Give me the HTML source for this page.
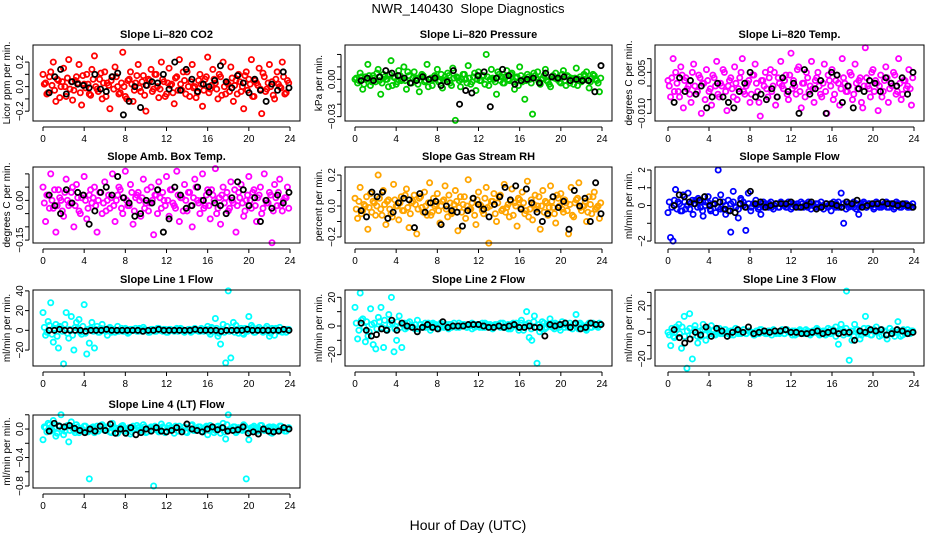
<!DOCTYPE html>
<html><head><meta charset="utf-8"><style>
body{margin:0;background:#fff;width:936px;height:540px;overflow:hidden}
svg{display:block;font-family:"Liberation Sans",sans-serif}
</style></head><body>
<svg id="c" width="936" height="540">
<text x="468" y="13" text-anchor="middle" font-size="13">NWR_140430&#160; Slope Diagnostics</text>
<text x="468" y="530" text-anchor="middle" font-size="14">Hour of Day (UTC)</text>
</svg>
<script>
const co2=[10,3,-5,12,20,-12,5,0,15,-8,22,4,-3,8,18,-15,2,10,-6,14,25,-2,6,-10,12,3,-18,8,16,0,-5,28,-8,5,12,-12,3,18,-4,9,-20,6,14,-2,10,-9,20,4,-6,15,2,-14,8,22,-3,5,12,-8,18,0,-5,10,-16,6,24,-2,14,3,-10,8,20,-6,2,16,-12,5,10,-4,-18,12,6,22,-8,3,15,-22,8,-2,18,4,-10,12,0,20,-6,5];
const co2B=[2,-6,8,1,-3,6,-9,4,0,7,-2,-11,5,3,-5,9,-1,2,-7,6,0,-4,11,3,-8,1,5,-2,8,-6,3,0,-10,6,2,-3,9,-1,4,-7,1,5,-4,10,0,-2,6,-8,3,1,-5,7,-3,2,12,-6,0,4,-1,-9,5,2,-3,8,-5,1,6,-2,10,-7,0,3,-4,7,1,-6,4,0,9,-3,2,-8,5,1,-2,11,-4,3,0,-7,6,2,-1,8,-5,3];
const co2Blk=[-5,8,14,-6,4,2,1,-1,10,-2,-4,8,11,-23,-12,0,-17,1,4,3,10,-2,20,-3,14,6,-4,2,0,5,17,4,-1,9,3,-5,6,-3,-12,2,-3,12,-1];
const press=[0,-3,5,-8,2,12,-5,3,-2,8,-12,4,0,-6,15,2,-4,7,-1,10,-8,3,-3,6,1,-10,4,-2,12,0,-5,3,8,-1,-7,2,5,-3,9,-33,1,-6,4,0,11,-4,2,-9,6,-1,3,20,-5,8,0,-12,4,2,-3,7,-1,5,-8,2,10,-2,-16,4,0,-28,3,6,-4,1,8,-2,-6,3,5,0,-3,7,-5,2,1,-4,9,0,-2,4,6,-7,1,3,-1,-10];
const pressB=[1,-1,2,-4,0,3,-2,1,5,-1,-3,2,0,4,-5,1,-2,3,0,-1,6,-3,1,0,-4,2,3,-1,-6,1,0,2,-2,4,-1,0,3,-5,1,2,-1,0,4,-3,1,-2,5,0,-1,3,-4,2,0,1,-2,6,-1,-3,2,0,4,-2,1,-5,3,0,-1,2,-3,5,1,-2,0,3,-1,-4,2,1,0,-2,4,-1,3,-3,0,1,-5,2,0,3,-1,-2,4,0,-3,1];
const pressBlk=[-1,1,-1,2,7,5,3,1,-3,-1,2,0,1,-5,-2,7,-20,-9,-11,3,6,-22,1,8,3,-4,-1,0,1,-3,5,2,1,2,-1,0,-1,-1,-10,11];
const temp=[2,-4,10,5,-2,7,-8,3,0,-6,8,-3,4,-10,1,6,-2,-7,3,9,-4,0,5,-9,2,-1,7,-5,3,10,-3,1,-6,4,8,-2,-11,2,5,-4,6,0,-7,3,9,-1,4,-5,12,2,-3,7,-8,1,5,-2,9,-6,3,0,-4,8,-10,2,6,-3,4,-7,10,1,-2,5,-5,8,-1,3,-8,14,0,-4,6,2,-9,4,-2,7,-6,1,5,-3,10,-5,2,-1,6,-7];
const tempB=[0,3,-2,1,-4,4,2,-1,-3,5,0,-2,3,1,-5,2,-1,4,0,-3,1,6,-2,0,3,-4,1,-1,5,-2,0,2,-3,4,1,-6,2,0,-1,3,-2,5,-4,1,0,2,-3,4,-1,0,6,-2,1,-4,3,0,-1,2,5,-3,1,-2,4,0,-5,2,1,-1,3,-2,0,4,-3,1,2,-6,0,3,-1,5,-2,1,0,-4,2,3,-1,0,4,-2,1,-3,2,0,-1,3];
const tempBlk=[-6,3,-2,2,-3,0,-8,-4,1,-4,-6,-8,-2,1,5,-4,-3,-5,-1,-4,3,-2,1,-10,6,-3,-1,2,-10,5,4,-6,0,-8,-1,-2,2,1,-2,3,1,0,3,-3,5];
const amb=[5,-8,2,10,-3,-12,4,0,-6,8,-2,3,-10,6,-4,1,9,-7,2,-1,5,-12,3,-5,7,0,-3,10,-8,2,4,-5,11,-2,6,-9,1,3,-6,8,-1,-4,5,-13,2,7,-3,0,9,-6,4,-2,11,-8,1,6,-4,3,-10,8,0,-5,10,-2,4,-7,2,12,-3,-9,5,1,-4,7,-1,-12,3,6,-6,0,9,-3,4,-8,2,-5,10,-1,3,-16,6,-2,8,-4,1,5];
const ambB=[-1,2,-3,0,4,-2,1,-4,3,0,-1,5,-2,1,-5,2,0,-3,4,1,-2,0,3,-1,-4,2,1,-2,0,5,-3,1,0,-2,3,-4,2,0,1,-3,4,-1,0,2,-5,1,3,-2,0,4,-1,-3,2,1,-4,0,3,-2,1,5,-1,0,-3,2,-2,4,0,-5,1,2,-1,3,-3,0,4,-2,1,-1,-4,2,0,3,-2,1,5,-3,0,-1,2,-4,1,3,-2,0,1,-3];
const ambBlk=[2,-2,-5,4,-1,3,2,-9,-4,3,5,2,9,1,-1,-6,-5,0,-1,4,-12,-7,5,2,-3,-2,5,0,3,-1,-2,-5,1,7,4,-2,1,-8,0,-3,2,-1,3];
const rh=[5,-8,12,-3,0,-15,8,3,-6,20,-2,10,-12,4,-5,14,0,-9,6,-3,11,-14,2,7,-18,5,-1,9,-6,15,-4,0,8,-11,3,13,-7,2,-4,10,-16,6,1,-8,17,-2,5,-12,9,0,-5,12,-24,3,8,-10,6,-3,14,-1,-7,11,2,-13,4,9,-5,16,-2,-9,7,0,-15,10,3,-6,13,-1,-11,5,8,-4,2,-18,12,-7,4,15,-3,0,-10,6,-5,9,-1,-8];
const rhB=[-2,3,-5,1,6,-1,-4,2,0,5,-6,1,3,-2,-7,4,0,2,-3,7,-1,-5,3,1,-2,6,-4,0,2,-6,5,1,-3,0,4,-2,7,-5,1,3,-1,-4,6,0,-2,2,-6,4,1,-3,5,-1,0,3,-5,2,7,-2,-4,1,3,-6,0,5,-1,2,-3,-7,4,1,-2,6,0,-4,2,-1,3,-5,7,0,-2,4,-3,1,-6,2,5,-1,0,3,-4,1,6,-2,0,2];
const rhBlk=[-3,-7,9,6,9,-8,-4,2,5,4,-14,8,-4,2,3,-12,0,-3,-4,-13,-3,5,1,-2,-7,1,6,12,4,13,-2,11,2,-4,-10,-5,6,-1,3,-15,10,0,5,-10,15,-5];
const sflow=[-4,-18,-20,9,2,-3,6,-2,7,1,-5,3,4,-1,-6,2,5,-3,1,-4,20,6,-2,-5,3,-15,8,-1,-7,4,2,-14,7,-3,1,3,-2,-5,2,1,-1,2,-2,1,-1,2,1,-1,2,-2,1,0,-1,2,-1,1,2,-2,0,1,-1,2,-2,1,0,-3,2,1,-1,7,-10,2,-1,1,2,-2,-5,1,2,-1,1,0,-2,2,1,-1,0,2,-1,1,-2,2,1,-1,0,1,-1,-1];
const sflowB=[2,-1,3,-2,1,-3,2,0,-2,3,1,-1,2,-3,0,2,-2,1,3,-1,-2,2,0,-3,1,2,-1,-2,3,0,-1,1,-1,1,0,-1,1,-1,0,1,-1,0,1,-1,1,0,-1,1,-1,0,1,-1,1,0,-1,1,0,-1,1,-1,0,1,-1,1,0,-1,2,-1,1,-2,1,0,-1,1,-1,0,1,-1,1,0,-1,1,-1,0,1,-1,1,0,-1,1,-1,0,1,-1,0,1];
const sflowBlk=[0,6,5,2,1,3,5,0,1,2,-2,-3,-4,1,-1,8,1,2,-1,0,1,1,1,2,-1,-1,0,2,-2,-1,1,1,0,-1,2,1,3,-1,0,1,1,2,1,1,0,1,0,-1];
const line1=[18,-5,9,28,-12,6,-18,3,-34,18,-8,14,-20,8,11,-4,26,-24,-13,8,-18,4,-2,6,0,-5,3,1,-2,4,0,-1,2,-3,1,0,2,-1,1,3,0,-2,1,0,-1,2,0,1,-2,1,0,-1,2,0,1,-2,0,1,-1,2,0,-1,1,0,4,-4,2,12,-6,-14,6,-33,40,-28,8,5,-3,2,-4,0,14,5,-2,1,3,0,-1,4,-6,2,-5,1,3,-2,0,1];
const line1B=[3,-2,5,-4,2,-6,4,-1,6,-3,1,-5,3,2,-2,4,-3,1,2,-1,1,-2,2,0,-1,2,-2,1,0,-1,2,-1,1,-2,1,0,-1,2,-1,1,0,-2,1,-1,2,0,-1,1,-2,1,0,1,-1,2,-1,0,1,-2,1,0,-1,2,-1,1,-2,3,-1,2,-3,1,-2,4,-1,3,-2,1,0,-3,2,-1,1,3,-2,0,1,-2,2,-1,-3,1,2,-1,0,1,-2,1];
const line1Blk=[0,0,1,0,0,0,0,-1,0,0,0,1,0,0,0,0,0,0,-1,0,0,1,0,0,0,0,0,0,1,0,0,0,0,-1,0,0,0,0,1,0,0,0,0,0,0,1,0];
const line2=[13,-9,23,5,-11,-7,12,-13,-16,6,13,-15,-2,8,20,-18,-10,7,-15,2,-1,3,0,-2,4,1,-1,2,0,-3,2,1,-1,2,0,1,-2,1,0,-1,2,0,1,-1,0,2,-1,1,0,-1,2,0,1,-1,0,1,2,-1,0,-2,1,0,2,-3,4,-1,10,-8,-10,7,-26,-4,3,-2,1,5,-1,2,0,-3,1,2,-1,0,1,8,-2,1,0,-3,2,-1,1,0,2];
const line2B=[2,-3,4,-1,3,-4,1,2,-2,3,-1,4,-3,1,2,-2,3,-1,1,-2,2,0,-1,1,-2,1,0,-1,2,-1,1,0,-2,1,-1,0,1,-1,2,0,-1,1,0,-1,1,-2,1,0,-1,2,-1,1,0,-2,1,0,-1,2,-1,1,-2,2,0,-1,2,-3,1,2,-2,3,-1,1,-2,2,-1,0,2,-2,1,-1,3,-1,0,2,-2,1,-1,2,0,-2,1,-1,2,0,-1,1];
const line2Blk=[2,-3,-7,-6,-2,-3,4,-3,2,0,-1,-4,-1,1,-1,-2,3,-1,0,0,0,1,1,1,0,-1,-1,0,-1,0,1,-1,-1,0,-1,-1,-7,1,0,1,2,-1,2,-2,-1,2,1,1];
const line3=[0,-10,-3,4,6,-12,12,-27,14,-20,5,-8,-3,6,-6,2,5,-2,0,3,-1,2,0,-2,1,3,-1,0,2,-1,1,0,-2,1,2,0,-1,1,0,2,-1,0,1,-1,2,0,1,-2,0,1,-1,2,0,-1,1,3,-2,0,1,-1,2,0,4,-9,6,1,31,-21,-6,6,2,-5,0,12,3,-2,1,4,0,-2,1,-5,3,1,0,8,-3,2,-1,0,1];
const line3B=[-2,3,-4,2,-1,4,-3,1,3,-2,2,-3,1,2,-2,3,-1,1,-2,2,-1,0,2,-1,1,-2,1,0,-1,2,-1,1,0,-2,1,-1,2,0,-1,1,-2,1,0,-1,2,-1,1,0,-2,1,-1,2,0,-1,1,-2,1,0,2,-1,1,-2,3,-1,2,-3,1,2,-2,3,-1,1,-3,2,0,-2,3,-1,1,-2,2,0,-3,2,1,-2,3,-1,-3,2,1,-2,0,2,-1,1];
const line3Blk=[2,-4,-8,-5,0,-2,4,-3,3,1,-3,0,2,0,4,-1,0,1,0,1,1,2,0,0,-1,-1,0,1,-1,0,1,-1,0,0,-6,1,0,2,1,2,-2,-1,2,1,-1,0];
const line4=[-15,2,8,-3,12,-10,5,20,-8,3,-18,10,-2,6,-5,1,4,-3,-70,2,-5,4,0,6,-2,3,-4,8,0,-6,2,5,-3,1,-7,4,0,2,-2,6,-5,1,3,-80,0,-4,7,2,-3,5,0,-6,2,4,-1,3,-5,1,6,-2,0,3,-4,2,-8,5,1,-2,4,-6,8,-14,20,0,3,-5,2,-1,6,-70,-15,2,4,-3,1,5,-2,0,3,-6,2,-1,4,0,-3,1];
const line4B=[3,-4,6,-1,2,-6,4,0,-3,5,-2,1,-5,3,0,-2,4,-4,1,3,-1,-3,5,0,-2,2,-5,3,1,-1,4,-3,0,2,-4,1,5,-2,0,3,-4,1,-1,4,-2,0,3,-5,1,2,-1,4,-3,0,2,-4,1,5,-2,-1,3,-3,0,4,-2,1,-5,3,0,2,-4,6,-1,0,3,-3,1,-2,4,0,-4,2,1,-3,5,-1,0,2,-5,3,1,-2,4,0,-3,2];
const line4Blk=[-3,8,4,3,5,1,-2,-5,0,-3,4,-2,7,-6,0,-6,2,-8,-5,0,-3,2,-3,-4,-2,2,-4,7,0,-2,-4,0,3,-1,2,-3,-2,-1,3,-6,-4,-7,0,-3,-4,-3,2,0];
const xTicks=[0,4,8,12,16,20,24];

const NS='http://www.w3.org/2000/svg';
const svg=document.getElementById('c');
function el(t,a,p){const e=document.createElementNS(NS,t);for(const k in a)e.setAttribute(k,a[k]);(p||svg).appendChild(e);return e;}
const cols=[{l:33,r:300,x0:43,x24:290},{l:345,r:612,x0:355,x24:602},{l:655,r:924,x0:668,x24:914}];
const rows=[{t:45,b:121},{t:167,b:243},{t:290,b:366},{t:415,b:488}];
const panels=[
 {name:'co2',title:'Slope Li\u2013820 CO2',yl:'Licor ppm per min.',c:0,r:0,col:'#ff0000',d:co2,d2:co2B,k:co2Blk,u:0.01,lo:-0.28,hi:0.339,ticks:[-0.2,-0.1,0,0.1,0.2],labs:[[-0.2,'\u22120.2'],[0,'0.0'],[0.2,'0.2']]},
 {name:'pressure',title:'Slope Li\u2013820 Pressure',yl:'kPa per min.',c:1,r:0,col:'#00cc00',d:press,d2:pressB,k:pressBlk,u:0.001,lo:-0.0335,hi:0.0276,ticks:[-0.03,-0.02,-0.01,0,0.01,0.02],labs:[[-0.03,'\u22120.03'],[0,'0.00']]},
 {name:'temp',title:'Slope Li\u2013820 Temp.',yl:'degrees C per min.',c:2,r:0,col:'#ff00ff',d:temp,d2:tempB,k:tempBlk,u:0.001,lo:-0.0128,hi:0.015,ticks:[-0.01,-0.005,0,0.005,0.01],labs:[[-0.01,'\u22120.010'],[0.005,'0.005']]},
 {name:'amb-box',title:'Slope Amb. Box Temp.',yl:'degrees C per min.',c:0,r:1,col:'#ff00ff',d:amb,d2:ambB,k:ambBlk,u:0.01,lo:-0.161,hi:0.126,ticks:[-0.15,-0.1,-0.05,0,0.05,0.1],labs:[[-0.15,'\u22120.15'],[0,'0.00']]},
 {name:'rh',title:'Slope Gas Stream RH',yl:'percent per min.',c:1,r:1,col:'#ffa500',d:rh,d2:rhB,k:rhBlk,u:0.01,lo:-0.239,hi:0.252,ticks:[-0.2,-0.1,0,0.1,0.2],labs:[[-0.2,'\u22120.2'],[0,'0.0'],[0.2,'0.2']]},
 {name:'sample-flow',title:'Slope Sample Flow',yl:'ml/min per min.',c:2,r:1,col:'#0000ff',d:sflow,d2:sflowB,k:sflowBlk,u:0.1,lo:-2.11,hi:2.17,ticks:[-2,-1,0,1,2],labs:[[-2,'\u22122'],[0,'0'],[1,'1'],[2,'2']]},
 {name:'line1',title:'Slope Line 1 Flow',yl:'ml/min per min.',c:0,r:2,col:'#00ffff',d:line1,d2:line1B,k:line1Blk,u:1,lo:-36.2,hi:40.9,ticks:[-20,0,20,40],labs:[[-20,'\u221220'],[0,'0'],[20,'20'],[40,'40']]},
 {name:'line2',title:'Slope Line 2 Flow',yl:'ml/min per min.',c:1,r:2,col:'#00ffff',d:line2,d2:line2B,k:line2Blk,u:1,lo:-27.9,hi:25.1,ticks:[-20,-10,0,10,20],labs:[[-20,'\u221220'],[0,'0'],[20,'20']]},
 {name:'line3',title:'Slope Line 3 Flow',yl:'ml/min per min.',c:2,r:2,col:'#00ffff',d:line3,d2:line3B,k:line3Blk,u:1,lo:-25.3,hi:31.8,ticks:[-20,-10,0,10,20,30],labs:[[-20,'\u221220'],[0,'0'],[20,'20']]},
 {name:'line4',title:'Slope Line 4 (LT) Flow',yl:'ml/min per min.',c:0,r:3,col:'#00ffff',d:line4,d2:line4B,k:line4Blk,u:0.01,lo:-0.828,hi:0.197,ticks:[-0.8,-0.6,-0.4,-0.2,0,0.2],labs:[[-0.8,'\u22120.8'],[-0.4,'\u22120.4'],[0,'0.0']]}
];
panels.forEach(p=>{
 const C=cols[p.c],R=rows[p.r];
 const g=el('g',{});
 
 
 const sx=h=>C.x0+(C.x24-C.x0)*h/24;
 const sy=v=>R.b-(v-p.lo)/(p.hi-p.lo)*(R.b-R.t);
 const t=el('text',{x:(C.l+C.r)/2,y:R.t-7,'text-anchor':'middle','font-size':11,'font-weight':'bold'},g);t.textContent=p.title;
 
 
 const yl=el('text',{transform:`translate(${C.l-23},${(R.t+R.b)/2}) rotate(-90)`,'text-anchor':'middle','font-size':10},g);yl.textContent=p.yl;
 
 
 const pts=el('g',{},g);
 
 
 [[p.d,0],[p.d2,0.125]].forEach(([arr,off])=>{
  arr.forEach((v,i)=>{const y=sy(v*p.u);if(y<R.t-3||y>R.b+3)return;
   const c=el('circle',{cx:sx(off+i*23.75/(arr.length-1)),cy:y,r:2.6,fill:'none',stroke:p.col,'stroke-width':1.8},pts);
   
   });
 });
 p.k.forEach((v,i)=>{const y=sy(v*p.u);
  const c=el('circle',{cx:sx(0.6+i*23.3/(p.k.length-1)),cy:y,r:2.6,fill:'none',stroke:'#000','stroke-width':1.8},pts);
  
  });
 const box=el('rect',{x:C.l,y:R.t,width:C.r-C.l,height:R.b-R.t,fill:'none',stroke:'#000','stroke-width':1},g);
 
 
 const ax=el('g',{'font-size':10},g);
 
 
 el('line',{x1:sx(0),x2:sx(24),y1:R.b+6,y2:R.b+6,stroke:'#000'},ax);
 xTicks.forEach(h=>{el('line',{x1:sx(h),x2:sx(h),y1:R.b+6,y2:R.b+10,stroke:'#000'},ax);
  const tl=el('text',{x:sx(h),y:R.b+21,'text-anchor':'middle'},ax);tl.textContent=h;});
 el('line',{x1:C.l-4,x2:C.l-4,y1:sy(p.ticks[0]),y2:sy(p.ticks[p.ticks.length-1]),stroke:'#000'},ax);
 p.ticks.forEach(v=>el('line',{x1:C.l-8,x2:C.l-4,y1:sy(v),y2:sy(v),stroke:'#000'},ax));
 p.labs.forEach(([v,s])=>{const tl=el('text',{transform:`translate(${C.l-10},${sy(v)}) rotate(-90)`,'text-anchor':'middle'},ax);tl.textContent=s;});
});
</script>
</body></html>
